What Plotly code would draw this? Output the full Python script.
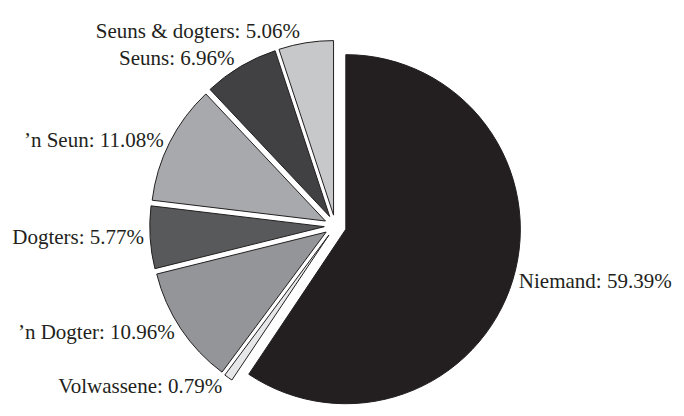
import plotly.graph_objects as go

labels = ["Niemand", "Volwassene", "\u2019n Dogter", "Dogters", "\u2019n Seun", "Seuns", "Seuns & dogters"]
values = [59.39, 0.79, 10.96, 5.77, 11.08, 6.96, 5.06]
colors = ["#231f20", "#e6e7e8", "#939598", "#58595b", "#a7a9ac", "#414042", "#c7c8ca"]

fig = go.Figure(go.Pie(
    labels=labels,
    values=values,
    sort=False,
    direction="clockwise",
    rotation=0,
    pull=[0.063] * len(values),
    marker=dict(colors=colors, line=dict(color="#231f20", width=1)),
    textposition="outside",
    texttemplate="%{label}: %{value:.2f}%",
    textfont=dict(family="Liberation Serif", size=21, color="#231f20"),
    showlegend=False,
    domain=dict(x=[0.206, 0.751], y=[0.030, 0.922]),
    automargin=False,
))

fig.update_layout(
    width=684, height=416,
    margin=dict(l=0, r=0, t=0, b=0),
    paper_bgcolor="white", plot_bgcolor="white",
)

fig.write_html("out.html")
